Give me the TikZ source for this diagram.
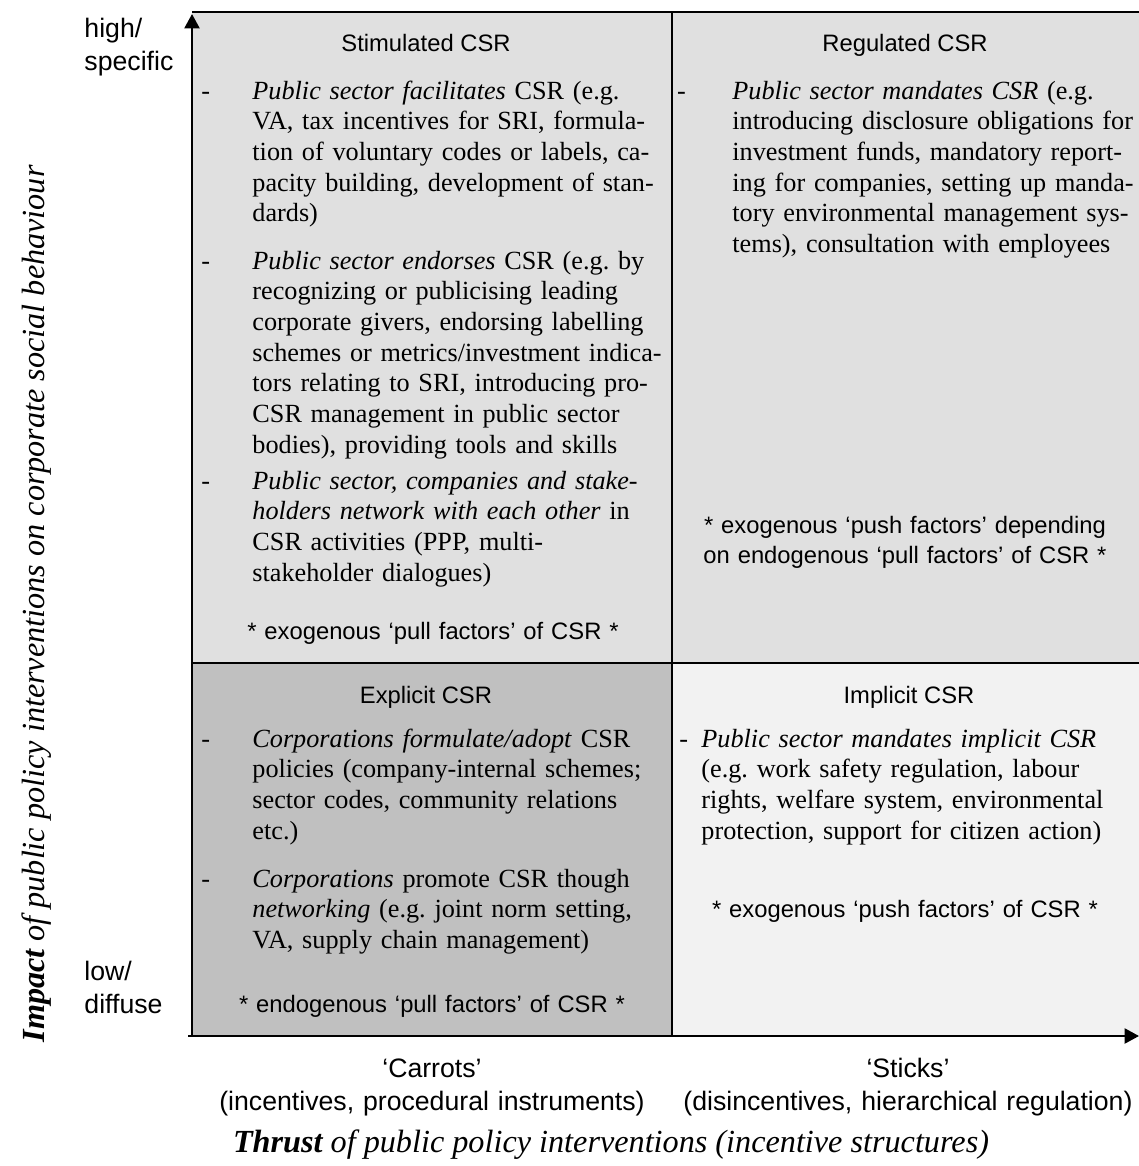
\documentclass[tikz,border=0pt]{standalone}
\usepackage{fontspec}
\setmainfont{Liberation Serif}
\setsansfont{Liberation Sans}
\usetikzlibrary{arrows.meta}
\definecolor{fillStimulated}{HTML}{E0E0E0}
\definecolor{fillRegulated}{HTML}{E0E0E0}
\definecolor{fillExplicit}{HTML}{C0C0C0}
\definecolor{fillImplicit}{HTML}{F2F2F2}
\newcommand{\dashlead}[1]{\llap{-\hspace{#1}}}
\frenchspacing

\begin{document}
\begin{tikzpicture}[
        x=0.45pt, y=-0.45pt,
        heading/.style={anchor=base, inner sep=0pt, font=\sffamily\fontsize{10.7}{12.8}\selectfont},
        item/.style={anchor=base west, inner sep=0pt, text width=195pt, align=left,
            font=\fontsize{11.8}{13.8}\selectfont},
        note/.style={anchor=base, inner sep=0pt, text width=205pt, align=center,
            font=\sffamily\fontsize{10.7}{13.6}\selectfont},
        level/.style={anchor=base west, inner sep=0pt, text width=45pt, align=left,
            font=\sffamily\fontsize{12}{15}\selectfont},
        pole/.style={anchor=base, inner sep=0pt, text width=215pt, align=center,
            font=\sffamily\fontsize{12}{14.9}\selectfont},
        axistitle/.style={inner sep=0pt, font=\itshape\fontsize{14.5}{16}\selectfont},
        border/.style={line width=1pt},
        axis/.style={line width=1pt, -{Triangle[length=6.5pt, width=6.8pt]}}
    ]
        \useasboundingbox (0,0) rectangle (1139,1166);

        % quadrant corners
        \coordinate (topLeft) at (192,12);
        \coordinate (topMid) at (672,12);
        \coordinate (topRight) at (1139,12);
        \coordinate (midLeft) at (192,663);
        \coordinate (center) at (672,663);
        \coordinate (midRight) at (1139,663);
        \coordinate (botMid) at (672,1036);
        \coordinate (botRight) at (1139,1036);
        \coordinate (origin) at (192,1036);
        \coordinate (yTip) at (192,14);
        \coordinate (xStart) at (188,1036);

        \fill[fillStimulated] (topLeft) rectangle (center);
        \fill[fillRegulated] (topMid) rectangle (midRight);
        \fill[fillExplicit] (midLeft) rectangle (botMid);
        \fill[fillImplicit] (center) rectangle (botRight);

        \draw[border] (topLeft) -- (topRight);
        \draw[border] (topMid) -- (botMid);
        \draw[border] (midLeft) -- (midRight);
        \draw[axis] (origin) -- (yTip);
        \draw[axis] (xStart) -- (botRight);

        % Stimulated CSR
        \node[heading] (stimHead) at (426,51) {Stimulated CSR};
        \node[item] (stimA) at (252,99) {\dashlead{19pt}\textit{Public sector facilitates} CSR (e.g.\\
            VA, tax incentives for SRI, formula-\\tion of voluntary codes or labels, ca-\\
            pacity building, development of stan-\\dards)};
        \node[item] (stimB) at (252,269) {\dashlead{19pt}\textit{Public sector endorses} CSR (e.g. by\\
            recognizing or publicising leading\\corporate givers, endorsing labelling\\
            schemes or metrics/investment indica-\\tors relating to SRI, introducing pro-\\
            CSR management in public sector\\bodies), providing tools and skills};
        \node[item] (stimC) at (252,489) {\dashlead{19pt}\textit{Public sector, companies and stake-}\\
            \textit{holders network with each other} in\\CSR activities (PPP, multi-\\
            stakeholder dialogues)};
        \node[note] (stimNote) at (433,639) {* exogenous ‘pull factors’ of CSR *};

        % Regulated CSR
        \node[heading] (regHead) at (905,51) {Regulated CSR};
        \node[item] (regA) at (732,99) {\dashlead{21pt}\textit{Public sector mandates CSR} (e.g.\\
            introducing disclosure obligations for\\investment funds, mandatory report-\\
            ing for companies, setting up manda-\\tory environmental management sys-\\
            tems), consultation with employees};
        \node[note] (regNote) at (905,533) {* exogenous ‘push factors’ depending\\
            on endogenous ‘pull factors’ of CSR *};

        % Explicit CSR
        \node[heading] (explHead) at (426,703) {Explicit CSR};
        \node[item] (explA) at (252,747) {\dashlead{19pt}\textit{Corporations formulate/adopt} CSR\\
            policies (company-internal schemes;\\sector codes, community relations\\etc.)};
        \node[item] (explB) at (252,887) {\dashlead{19pt}\textit{Corporations} promote CSR though\\
            \textit{networking} (e.g. joint norm setting,\\VA, supply chain management)};
        \node[note] (explNote) at (432,1012) {* endogenous ‘pull factors’ of CSR *};

        % Implicit CSR
        \node[heading] (implHead) at (909,703) {Implicit CSR};
        \node[item] (implA) at (701,747) {\dashlead{6pt}\textit{Public sector mandates implicit CSR}\\
            (e.g. work safety regulation, labour\\rights, welfare system, environmental\\
            protection, support for citizen action)};
        \node[note] (implNote) at (905,917) {* exogenous ‘push factors’ of CSR *};

        % axis labels
        \node[level] (high) at (84,37) {high/\\specific};
        \node[level] (low) at (84,980) {low/\\diffuse};
        \node[pole] (carrots) at (432,1077) {‘Carrots’\\(incentives, procedural instruments)};
        \node[pole] (sticks) at (908,1077) {‘Sticks’\\(disincentives, hierarchical regulation)};
        \node[axistitle, anchor=base] (thrust) at (611,1152)
            {\textbf{Thrust} of public policy interventions (incentive structures)};
        \node[axistitle, rotate=90] (impact) at (37,604)
            {\textbf{Impact} of public policy interventions on corporate social behaviour};
    \end{tikzpicture}
\end{document}
